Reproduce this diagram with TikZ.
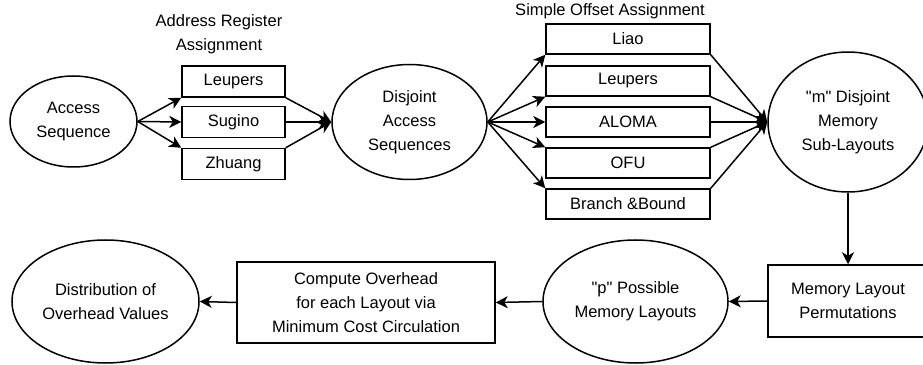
\documentclass[tikz,border=0pt]{standalone}
\usepackage{fontspec}
\setmainfont{Liberation Sans}
\usetikzlibrary{shapes.geometric,arrows.meta}

\begin{document}
\begin{tikzpicture}[x=1pt,y=1pt,line width=1.5pt,
  every node/.style={font=\fontsize{16.5}{24}\selectfont,align=center},
  box/.style={draw,rectangle,inner sep=0pt},
  oval/.style={draw,ellipse,inner sep=0pt},
  arr/.style={-{Stealth[length=12pt,width=12pt,inset=3.5pt]}}]
\useasboundingbox (0,0) rectangle (923,364);
\clip (0,0) rectangle (923,364);

\node[oval,minimum width=127,minimum height=91] (acc) at (73.5,242.5) {Access\\Sequence};

\node (arlab) at (219,329.5) {Address Register\\Assignment};
\node[box,minimum width=103,minimum height=31] (arLeu) at (233.5,282.5) {Leupers};
\node[box,minimum width=103,minimum height=31] (arSug) at (233.5,242) {Sugino};
\node[box,minimum width=103,minimum height=31] (arZhu) at (233.5,200) {Zhuang};

\node[oval,minimum width=155,minimum height=115] (dis) at (409.5,242) {Disjoint\\Access\\Sequences};

\node (soalab) at (610,353) {Simple Offset Assignment};
\foreach \y/\n/\t in {325/liao/Liao,283/leup/Leupers,242/aloma/ALOMA,201/ofu/OFU,160/bb/Branch \&Bound}
{
  \node[box,minimum width=164,minimum height=30] (\n) at (628,\y) {\t};
}

\node[oval,minimum width=160,minimum height=140] (mem) at (848,242) {\textquotedbl m\textquotedbl{} Disjoint\\Memory\\Sub-Layouts};
\node[box,minimum width=160,minimum height=72] (perm) at (848,63) {Memory Layout\\Permutations};
\node[oval,minimum width=185,minimum height=123] (poss) at (635.5,62.5) {\textquotedbl p\textquotedbl{} Possible\\Memory Layouts};
\node[box,minimum width=258,minimum height=81] (comp) at (366,61.5) {Compute Overhead\\for each Layout via\\Minimum Cost Circulation};
\node[oval,minimum width=187,minimum height=123] (dist) at (105.5,62.5) {Distribution of\\Overhead Values};

\foreach \n/\l/\r in {arLeu/south west/south east,arSug/west/east,arZhu/north west/north east}
{
  \draw[arr] (acc.east) -- (\n.\l);
  \draw[arr] (\n.\r) -- (dis.west);
}

\foreach \n/\l/\r in {liao/south west/south east,leup/south west/south east,aloma/west/east,ofu/north west/north east,bb/north west/north east}
{
  \draw[arr] (dis.east) -- (\n.\l);
  \draw[arr] (\n.\r) -- (mem.west);
}

\draw[arr] (mem.south) -- (perm.north);
\draw[arr] (perm.west) -- (poss.east);
\draw[arr] (poss.west) -- (comp.east);
\draw[arr] (comp.west) -- (dist.east);
\end{tikzpicture}
\end{document}
